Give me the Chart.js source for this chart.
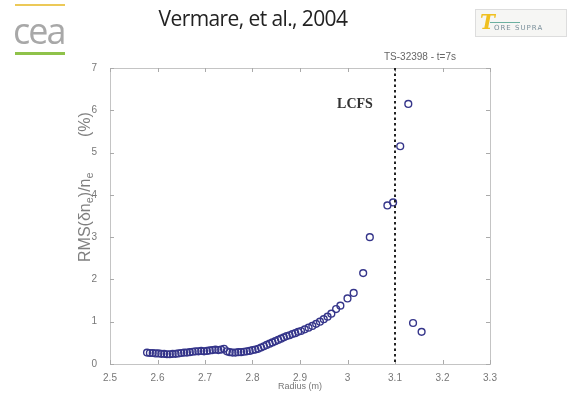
<!DOCTYPE html>
<html>
<head>
<meta charset="utf-8">
<script src="https://cdn.jsdelivr.net/npm/chart.js@4.4.0/dist/chart.umd.min.js"></script>
<style>
  html, body { margin: 0; padding: 0; background: #fff; }
  #wrap { position: relative; width: 567px; height: 393px; overflow: hidden; }
  #chart { position: absolute; left: 0; top: 0; }
  .bar { position: absolute; left: 15px; width: 50px; }
  #cea { position: absolute; left: 13px; top: 6px; font: 36px "Open Sans", sans-serif; color: #a8a8a8; letter-spacing: -2px; }
  #title { position: absolute; left: 145px; top: 4px; width: 216px; text-align: center; font: 21px "Open Sans", sans-serif; color: #222; letter-spacing: -0.6px; }
  #ts-logo { position: absolute; left: 475px; top: 9px; width: 92px; height: 28px; box-sizing: border-box; border: 1px solid #ddd; background: #f6f6f4; }
  #ts-logo .t { position: absolute; left: 4px; top: 0px; font: italic bold 20px "DejaVu Serif", serif; color: #f0c020; }
  #ts-logo .line { position: absolute; left: 14px; top: 12px; width: 30px; height: 1px; background: #6bb0a0; }
  #ts-logo .txt { position: absolute; left: 18px; top: 14px; font: 7px "DejaVu Sans", sans-serif; color: #7a8f9a; letter-spacing: 1px; }
</style>
</head>
<body>
<div id="wrap">
  <canvas id="chart" width="567" height="393"></canvas>
  <div class="bar" style="top:4px;height:2px;background:#ecc958;"></div>
  <div id="cea">cea</div>
  <div class="bar" style="top:52px;height:3px;background:#8fc24a;"></div>
  <div id="title">Vermare, et al., 2004</div>
  <div id="ts-logo"><span class="t">T</span><span class="line"></span><span class="txt">ORE SUPRA</span></div>
</div>
<script>
'use strict';

// Radius (m) and fluctuation level RMS(dn_e)/n_e (%)
let radius = [
  2.578, 2.584, 2.590, 2.596, 2.602, 2.608, 2.614, 2.620, 2.626, 2.632,
  2.638, 2.644, 2.650, 2.656, 2.662, 2.668, 2.674, 2.680, 2.686, 2.692,
  2.698, 2.704, 2.710, 2.716, 2.722, 2.728, 2.734, 2.740, 2.746, 2.752,
  2.758, 2.764, 2.770, 2.776, 2.782, 2.788, 2.794, 2.800, 2.806, 2.812,
  2.818, 2.824, 2.830, 2.836, 2.842, 2.848, 2.854, 2.860, 2.866, 2.872,
  2.878, 2.884, 2.890, 2.896, 2.902, 2.910, 2.918, 2.926, 2.934, 2.942,
  2.950, 2.958, 2.966, 2.976, 2.985, 3.000, 3.013, 3.033, 3.047, 3.084,
  3.096, 3.111, 3.128, 3.138, 3.156
];
let rmsLevel = [
  0.27, 0.26, 0.26, 0.25, 0.25, 0.24, 0.24, 0.23, 0.23, 0.24,
  0.24, 0.25, 0.26, 0.27, 0.27, 0.28, 0.29, 0.30, 0.30, 0.31,
  0.30, 0.31, 0.32, 0.33, 0.34, 0.33, 0.34, 0.36, 0.30, 0.28,
  0.27, 0.27, 0.28, 0.28, 0.29, 0.30, 0.31, 0.33, 0.34, 0.36,
  0.39, 0.42, 0.45, 0.48, 0.51, 0.54, 0.57, 0.60, 0.63, 0.66,
  0.68, 0.71, 0.73, 0.76, 0.78, 0.82, 0.86, 0.90, 0.95, 1.00,
  1.06, 1.12, 1.19, 1.30, 1.38, 1.55, 1.68, 2.15, 3.00, 3.75,
  3.82, 5.15, 6.15, 0.97, 0.76
];

// axis ranges and ticks
let xTicks = [2.5, 2.6, 2.7, 2.8, 2.9, 3.0, 3.1, 3.2, 3.3];
let yTicks = [0, 1, 2, 3, 4, 5, 6, 7];

// last closed flux surface position
let lcfsRadius = 3.1;
let shotLabel = 'TS-32398 - t=7s';

let points = [];
for (let i = 0; i < radius.length; i++) {
  points.push({ x: radius[i], y: rmsLevel[i] });
}

let ctx = document.getElementById('chart');

// frame, inward ticks, LCFS line and labels
const decorations = {
  id: 'decorations',
  afterDraw(chart) {
    const c = chart.ctx;
    const a = chart.chartArea;
    const xs = chart.scales.x;
    const ys = chart.scales.y;
    c.save();

    c.strokeStyle = '#c4c4c4';
    c.lineWidth = 1;
    c.strokeRect(a.left + 0.5, a.top + 0.5, a.right - a.left, a.bottom - a.top);

    c.strokeStyle = '#aaa';
    c.beginPath();
    for (let i = 0; i < xTicks.length; i++) {
      let px = Math.round(xs.getPixelForValue(xTicks[i])) + 0.5;
      c.moveTo(px, a.bottom); c.lineTo(px, a.bottom - 4);
      c.moveTo(px, a.top); c.lineTo(px, a.top + 4);
    }
    for (let i = 0; i < yTicks.length; i++) {
      let py = Math.round(ys.getPixelForValue(yTicks[i])) + 0.5;
      c.moveTo(a.left, py); c.lineTo(a.left + 4, py);
      c.moveTo(a.right, py); c.lineTo(a.right - 4, py);
    }
    c.stroke();

    // dotted LCFS marker
    let lx = xs.getPixelForValue(lcfsRadius);
    c.strokeStyle = '#222';
    c.lineWidth = 2;
    c.setLineDash([2.5, 3]);
    c.beginPath();
    c.moveTo(lx, a.top);
    c.lineTo(lx, a.bottom);
    c.stroke();
    c.setLineDash([]);

    c.fillStyle = '#333';
    c.font = 'bold 14px "Liberation Serif", serif';
    c.textAlign = 'center';
    c.textBaseline = 'middle';
    c.fillText('LCFS', 355, 104);

    c.fillStyle = '#666';
    c.font = '10px "Liberation Sans", sans-serif';
    c.fillText(shotLabel, 420, 57);

    // rotated y label with subscripts
    c.translate(86, 262);
    c.rotate(-Math.PI / 2);
    c.textAlign = 'left';
    c.textBaseline = 'middle';
    c.fillStyle = '#808080';
    let parts = [['RMS(\u03b4n', 0], ['e', 1], [')/n', 0], ['e', 1]];
    let x = 0;
    for (let i = 0; i < parts.length; i++) {
      c.font = parts[i][1] ? '11px "Liberation Sans", sans-serif' : '16px "Liberation Sans", sans-serif';
      c.fillText(parts[i][0], x, parts[i][1] ? 4 : 0);
      x += c.measureText(parts[i][0]).width;
    }
    c.font = '16px "Liberation Sans", sans-serif';
    c.fillText('(%)', 125, 0);
    c.restore();
  }
};

function tickText(v) {
  let r = Math.round(v * 10) / 10;
  return Number.isInteger(r) ? String(r) : r.toFixed(1);
}

const myChart = new Chart(ctx, {
  type: 'scatter',
  data: {
    datasets: [{
      data: points,
      pointStyle: 'circle',
      pointRadius: 3.4,
      borderColor: '#35358a',
      backgroundColor: 'rgba(0,0,0,0)',
      borderWidth: 1.4
    }]
  },
  options: {
    responsive: false,
    animation: false,
    layout: { padding: { top: 68, right: 77, left: 0, bottom: 0 } },
    plugins: { legend: { display: false }, tooltip: { enabled: false } },
    scales: {
      x: {
        type: 'linear',
        min: 2.5,
        max: 3.3,
        afterBuildTicks: (scale) => { scale.ticks = xTicks.map(v => ({ value: v })); },
        afterFit: (scale) => { scale.height = 29; },
        ticks: { callback: tickText, color: '#777', font: { size: 10, family: 'Liberation Sans' }, padding: 0, maxRotation: 0 },
        grid: { display: false },
        border: { display: false },
        title: { display: true, text: 'Radius (m)', color: '#777', font: { size: 9, family: 'Liberation Sans' }, padding: { top: 0, bottom: 1 } }
      },
      y: {
        type: 'linear',
        min: 0,
        max: 7,
        afterBuildTicks: (scale) => { scale.ticks = yTicks.map(v => ({ value: v })); },
        afterFit: (scale) => { scale.width = 110; },
        ticks: { color: '#777', font: { size: 10, family: 'Liberation Sans' }, padding: 5 },
        grid: { display: false },
        border: { display: false }
      }
    }
  },
  plugins: [decorations]
});
</script>
</body>
</html>
